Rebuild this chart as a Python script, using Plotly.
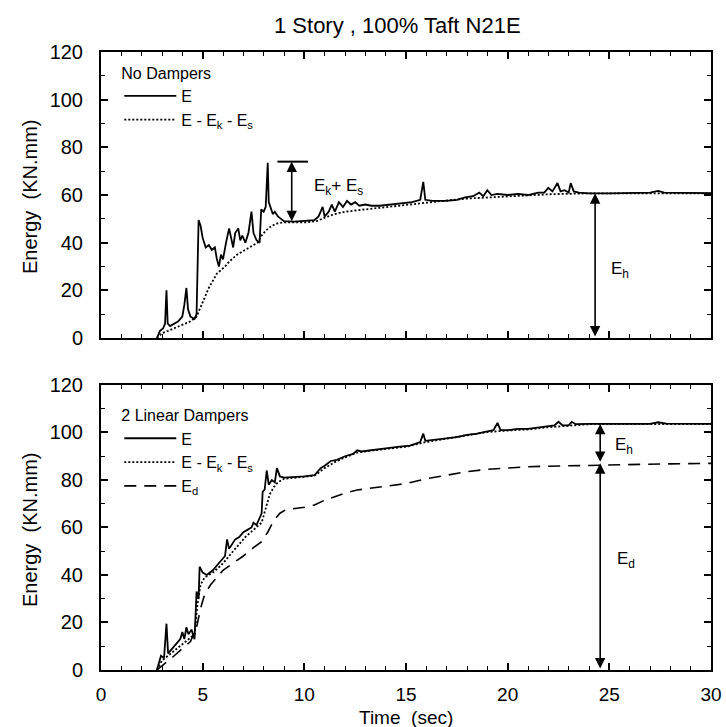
import plotly.graph_objects as go

# ---------------- data ----------------
# Top panel: No Dampers
top_E_t = [2.75, 2.9, 3.05, 3.15, 3.22, 3.28, 3.4, 3.6, 3.8, 4.0, 4.1, 4.2, 4.28, 4.4, 4.6, 4.7, 4.8, 4.9,
           5.0, 5.15, 5.3, 5.45, 5.6, 5.7, 5.8, 5.9, 6.0, 6.15, 6.3, 6.4, 6.5, 6.6, 6.75, 6.85, 6.95,
           7.1, 7.25, 7.4, 7.5, 7.65, 7.8, 7.88, 8.0, 8.1, 8.2, 8.25, 8.35, 8.45, 8.55, 8.7, 8.85,
           9.0, 9.5, 10.0, 10.5, 10.7, 10.9, 11.0, 11.2, 11.35, 11.5, 11.7, 11.9, 12.1, 12.3, 12.5,
           12.7, 13.0, 13.3, 13.7, 14.2, 14.8, 15.3, 15.7, 15.85, 15.95, 16.3, 17.0, 17.5, 17.9,
           18.3, 18.6, 18.8, 19.0, 19.2, 19.5, 20.0, 20.5, 21.0, 21.5, 21.8, 22.0, 22.2, 22.45,
           22.6, 22.8, 23.0, 23.1, 23.25, 23.5, 24.0, 25.0, 26.0, 27.0, 27.4, 27.7, 30.0]
top_E_v = [0, 3, 4, 6, 20, 6, 5, 6, 7, 9, 14, 21, 12, 9, 8, 10, 49.5, 47,
           42, 38, 39, 37, 38, 33, 30, 35, 33, 40, 46, 42, 38, 44, 46, 41, 43,
           40, 44, 53, 44, 41, 40, 54, 53, 55, 73.5, 57, 54, 52, 53, 51, 50,
           49, 48.8, 49, 49.5, 51, 55, 51, 53, 56, 53, 57, 55, 57.5, 56, 57,
           55.5, 56, 55.5, 55.5, 56, 56.5, 57, 58, 65.5, 58, 57.5, 57.5, 58, 59,
           59.5, 61, 59.5, 62, 60, 60.5, 60, 60.5, 60, 61, 61, 63, 61.5, 65,
           61.5, 62, 61, 65, 61.5, 61, 60.7, 60.7, 60.7, 61, 61.7, 61, 60.8]

top_R_t = [2.75, 3.0, 3.3, 3.6, 4.0, 4.4, 4.7, 4.9, 5.1, 5.3, 5.5, 5.7, 5.9, 6.1, 6.3, 6.5, 6.7, 6.9,
           7.1, 7.3, 7.5, 7.7, 7.9, 8.1, 8.3, 8.6, 9.0, 10.0, 10.6, 11.0, 11.5, 12.0, 12.5, 13.0,
           14.0, 15.0, 16.0, 17.0, 18.0, 19.0, 20.0, 21.0, 22.0, 23.0, 24.0, 30.0]
top_R_v = [0, 2, 3, 4, 5.5, 7, 9, 13, 17, 21, 24, 27, 28.5, 30, 32, 33.5, 35, 36,
           37, 38, 39, 40, 43, 45, 46.5, 48, 48.5, 48.5, 49, 50.5, 52, 53, 53.5, 54,
           55, 56, 57, 57.7, 58.5, 59, 59.5, 60, 60.3, 60.5, 60.7, 60.7]

# Bottom panel: 2 Linear Dampers
bot_E_t = [2.75, 2.95, 3.1, 3.22, 3.3, 3.5, 3.7, 3.9, 4.0, 4.1, 4.2, 4.3, 4.45, 4.6, 4.7, 4.8, 4.85,
           5.0, 5.2, 5.5, 5.7, 5.9, 6.1, 6.2, 6.3, 6.45, 6.6, 6.8, 7.0, 7.2, 7.4, 7.5, 7.65, 7.8,
           7.9, 7.95, 8.05, 8.15, 8.25, 8.4, 8.55, 8.65, 8.8, 9.0, 9.5, 10.0, 10.5, 10.8, 11.0,
           11.3, 11.6, 12.0, 12.4, 12.6, 12.8, 13.2, 13.7, 14.2, 14.7, 15.2, 15.7, 15.85, 15.95,
           16.5, 17.0, 17.5, 18.0, 18.5, 19.0, 19.3, 19.5, 19.65, 20.0, 20.5, 21.0, 21.5, 22.0,
           22.3, 22.5, 22.7, 23.0, 23.15, 23.35, 24.0, 27.0, 27.4, 27.8, 30.0]
bot_E_v = [0, 6, 5, 19.5, 7, 9, 11, 13, 16, 13, 18, 15, 17, 13, 33, 30, 43.5,
           41, 40, 42, 44, 46, 48, 55, 51, 53, 55, 56, 58, 59, 60, 62, 61, 64,
           66, 75, 76, 84, 78, 80, 79, 85, 81.5, 81, 81.2, 81.5, 82, 85, 86,
           88, 88.5, 90, 91, 92.5, 92, 92.5, 93, 93.5, 94, 94.5, 96, 99.5, 96.5,
           97, 97.5, 98, 99, 99.5, 100.5, 101, 104, 101, 101, 101.5, 101.5, 102, 102.5,
           103, 104.5, 103, 103, 104.5, 103.5, 103.6, 103.6, 104.3, 103.7, 103.6]

bot_R_t = [2.75, 3.0, 3.3, 3.6, 4.0, 4.3, 4.6, 4.75, 4.9, 5.1, 5.5, 5.9, 6.3, 6.7, 7.1, 7.5, 7.9,
           8.1, 8.3, 8.5, 8.7, 9.0, 9.5, 10.0, 10.5, 11.0, 11.5, 12.0, 12.6, 13.2, 14.0, 15.0,
           16.0, 17.0, 18.0, 19.0, 20.0, 21.0, 22.0, 23.0, 24.0, 30.0]
bot_R_v = [0, 4, 6, 8, 11, 13, 15, 28, 36, 39, 41, 44, 48, 52, 56, 59, 62,
           68, 74, 77, 79, 80.5, 81, 81.3, 81.8, 85, 87.5, 89.5, 91.5, 92.3, 93, 94,
           96, 97.3, 98.7, 100.2, 100.8, 101.3, 102.2, 102.9, 103.5, 103.5]

bot_D_t = [2.75, 3.2, 3.6, 4.0, 4.4, 4.7, 4.9, 5.1, 5.4, 5.7, 6.0, 6.5, 7.0, 7.5, 7.9, 8.2, 8.5,
           8.8, 9.1, 10.0, 10.5, 11.0, 11.5, 12.0, 12.6, 13.3, 14.0, 15.0, 16.0, 17.0, 18.0,
           19.0, 20.0, 21.0, 22.0, 23.0, 24.0, 26.0, 28.0, 30.0]
bot_D_v = [0, 3, 6, 9, 12, 18, 26, 32, 36, 39, 42, 45, 48, 51.5, 54, 58, 63,
           66, 67.5, 68.5, 69.5, 71.5, 73, 74.5, 75.8, 76.5, 77.3, 78.5, 80.5, 82, 83.5,
           84.5, 85.2, 85.6, 85.8, 86, 86.3, 86.6, 86.8, 87]

# annotation levels
top_Eh_t, top_Eh_top = 24.3, 60.7
top_EkEs_t, top_EkEs_top, top_EkEs_bot = 9.38, 74.0, 48.4
bot_arrow_t, bot_Eh_top, bot_Ed_top = 24.55, 103.6, 87.0

x_ticks = [0, 5, 10, 15, 20, 25, 30]
y_ticks = [0, 20, 40, 60, 80, 100, 120]

FONT = "Liberation Sans, Arial, Helvetica, sans-serif"
BLACK = "#000000"

fig = go.Figure()

def add_line(x, y, name, dash, xa, ya, legend, width=1.6):
    fig.add_trace(go.Scatter(x=x, y=y, mode="lines", name=name,
                             line=dict(color=BLACK, width=width, dash=dash),
                             xaxis=xa, yaxis=ya, legend=legend, hoverinfo="skip"))

add_line(top_E_t, top_E_v, "E", "solid", "x", "y", "legend", 1.8)
add_line(top_R_t, top_R_v, "E - E<sub>k</sub> - E<sub>s</sub>", "2px,2px", "x", "y", "legend", 1.8)
add_line(bot_E_t, bot_E_v, "E", "solid", "x2", "y2", "legend2", 1.8)
add_line(bot_R_t, bot_R_v, "E - E<sub>k</sub> - E<sub>s</sub>", "2px,2px", "x2", "y2", "legend2", 1.8)
add_line(bot_D_t, bot_D_v, "E<sub>d</sub>", "12px,8px", "x2", "y2", "legend2", 1.6)

top_dom = [0.5372, 1.0]
bot_dom = [0.0, 0.4612]

axis_common = dict(
    range=[0, 30], showline=True, linecolor=BLACK, linewidth=2, mirror="allticks",
    ticks="inside", ticklen=7, tickwidth=1.5, tickcolor=BLACK,
    tickvals=x_ticks, showgrid=False, zeroline=False, automargin=False,
    minor=dict(dtick=1, ticks="inside", ticklen=4, tickwidth=1.2, tickcolor=BLACK, showgrid=False),
    tickfont=dict(family=FONT, size=19, color=BLACK),
)
yaxis_common = dict(
    range=[0, 120], showline=True, linecolor=BLACK, linewidth=2, mirror="allticks",
    ticks="inside", ticklen=7, tickwidth=1.5, tickcolor=BLACK,
    tickvals=y_ticks, showgrid=False, zeroline=False, automargin=False,
    minor=dict(dtick=10, ticks="inside", ticklen=4, tickwidth=1.2, tickcolor=BLACK, showgrid=False),
    tickfont=dict(family=FONT, size=20, color=BLACK), ticklabelstandoff=12,
)

fig.update_layout(
    width=726, height=727,
    margin=dict(l=101, r=15, t=52, b=57, autoexpand=False),
    paper_bgcolor="white", plot_bgcolor="white",
    font=dict(family=FONT, color=BLACK),
    showlegend=True,
    xaxis=dict(axis_common, domain=[0, 1], anchor="y", showticklabels=False),
    yaxis=dict(yaxis_common, domain=top_dom, anchor="x"),
    xaxis2=dict(axis_common, domain=[0, 1], anchor="y2", showticklabels=True, ticklabelstandoff=6),
    yaxis2=dict(yaxis_common, domain=bot_dom, anchor="x2"),
    legend=dict(x=0.03, y=0.99, xanchor="left", yanchor="top", bgcolor="rgba(0,0,0,0)",
                font=dict(family=FONT, size=16, color=BLACK), tracegroupgap=0,
                title=dict(text="No Dampers", font=dict(family=FONT, size=16, color=BLACK)),
                itemwidth=52),
    legend2=dict(x=0.03, y=0.436, xanchor="left", yanchor="top", bgcolor="rgba(0,0,0,0)",
                 font=dict(family=FONT, size=16, color=BLACK), tracegroupgap=0,
                 title=dict(text="2 Linear Dampers", font=dict(family=FONT, size=16, color=BLACK)),
                 itemwidth=52),
)

# title
fig.add_annotation(text="1 Story , 100% Taft N21E", xref="paper", yref="paper",
                   x=(397 - 101) / 610, y=(670 - 25) / 618, xanchor="center", yanchor="middle",
                   showarrow=False, font=dict(family=FONT, size=22, color=BLACK))
# x-axis title
fig.add_annotation(text="Time\u00a0\u00a0(sec)", xref="paper", yref="paper",
                   x=(406 - 101) / 610, y=(670 - 717) / 618, xanchor="center", yanchor="middle",
                   showarrow=False, font=dict(family=FONT, size=19, color=BLACK))
# y-axis titles
for yc in [(670 - 197) / 618, (670 - 530) / 618]:
    fig.add_annotation(text="Energy\u00a0\u00a0(KN.mm)", xref="paper", yref="paper",
                       x=(30 - 101) / 610, y=yc, xanchor="center", yanchor="middle", textangle=-90,
                       showarrow=False, font=dict(family=FONT, size=20, color=BLACK))

def dbl_arrow(xref, yref, x, y0, y1):
    fig.add_annotation(x=x, y=y0, ax=x, ay=y1, xref=xref, yref=yref, axref=xref, ayref=yref,
                       text="", showarrow=True, arrowhead=2, arrowsize=1.3, arrowwidth=1.6,
                       arrowcolor=BLACK, arrowside="end+start", standoff=0, startstandoff=0,
                       startarrowhead=2, startarrowsize=1.3)

# top panel arrows
dbl_arrow("x", "y", top_EkEs_t, top_EkEs_top, top_EkEs_bot)
fig.add_shape(type="line", xref="x", yref="y", x0=top_EkEs_t - 0.7, x1=top_EkEs_t + 0.8,
              y0=top_EkEs_top, y1=top_EkEs_top, line=dict(color=BLACK, width=2))
dbl_arrow("x", "y", top_Eh_t, top_Eh_top, 0)
# bottom panel arrows
dbl_arrow("x2", "y2", bot_arrow_t, bot_Eh_top, bot_Ed_top)
dbl_arrow("x2", "y2", bot_arrow_t, bot_Ed_top, 0)

lab_font = dict(family=FONT, size=17, color=BLACK)
fig.add_annotation(text="E<sub>k</sub>+ E<sub>s</sub>", x=10.4, y=63.4, xref="x", yref="y",
                   xanchor="left", yanchor="middle", showarrow=False, font=lab_font)
fig.add_annotation(text="E<sub>h</sub>", x=25.0, y=28.5, xref="x", yref="y",
                   xanchor="left", yanchor="middle", showarrow=False, font=lab_font)
fig.add_annotation(text="E<sub>h</sub>", x=25.2, y=94.5, xref="x2", yref="y2",
                   xanchor="left", yanchor="middle", showarrow=False, font=lab_font)
fig.add_annotation(text="E<sub>d</sub>", x=25.3, y=46.3, xref="x2", yref="y2",
                   xanchor="left", yanchor="middle", showarrow=False, font=lab_font)

# remove the default 8px page margin so the 726x727 figure fills the window exactly
fig.write_html("out.html", config={"displayModeBar": False},
               post_script="document.body.style.margin='0px';")
